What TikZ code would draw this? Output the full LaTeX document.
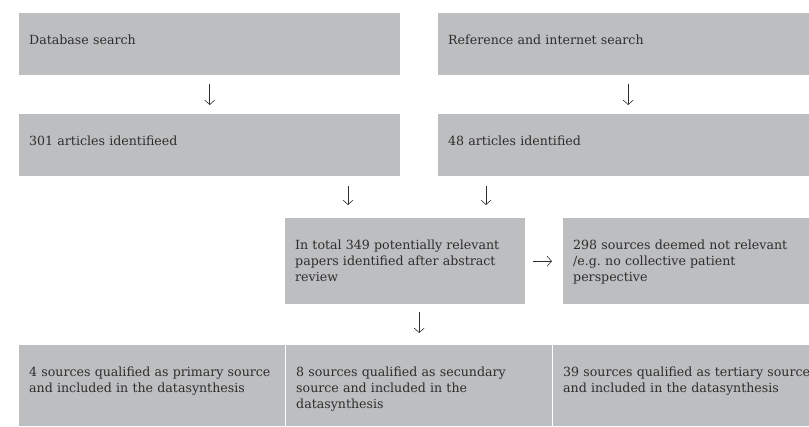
\documentclass[tikz,border=0pt]{standalone}
\usepackage{fontspec}
\setmainfont{DejaVu Serif}
\usetikzlibrary{arrows.meta}
\definecolor{boxgray}{RGB}{189,190,192}
\definecolor{inkgray}{RGB}{45,45,45}

\begin{document}
\begin{tikzpicture}[
        x=1pt, y=-1pt,
        stage/.style={rectangle, fill=boxgray, anchor=north west, align=left, inner xsep=10pt, inner ysep=0pt, text height=31pt, text=inkgray, font=\fontsize{12.6}{16}\selectfont},
        arrow/.style={-{Straight Barb[length=4.5pt,width=10pt]}, draw=inkgray, line width=0.6pt}
    ]
        \useasboundingbox (0,0) rectangle (809,426);

        % Searches
        \node[stage, text width=361pt, text depth=31pt] (dbsearch) at (19,13) {Database search};
        \node[stage, text width=360pt, text depth=31pt] (refsearch) at (438,13) {Reference and internet search};

        % Identified
        \node[stage, text width=361pt, text depth=31pt] (found301) at (19,114) {301 articles identifieed};
        \node[stage, text width=360pt, text depth=31pt] (found48) at (438,114) {48 articles identified};

        % Abstract review
        \node[stage, text width=220pt, text depth=55pt] (total) at (285,218) {In total 349 potentially relevant\\papers identified after abstract\\review};
        \node[stage, text width=235pt, text depth=55pt] (excluded) at (563,218) {298 sources deemed not relevant\\/e.g.\ no collective patient\\perspective};

        % Included sources
        \node[stage, text width=246pt, text depth=50pt] (primary) at (19,345) {4 sources qualified as primary source\\and included in the datasynthesis};
        \node[stage, text width=246pt, text depth=50pt] (secondary) at (286,345) {8 sources qualified as secundary\\source and included in the\\datasynthesis};
        \node[stage, text width=262pt, text depth=50pt] (tertiary) at (553,345) {39 sources qualified as tertiary source\\and included in the datasynthesis};

        % Arrows
        \coordinate (leftin) at (348,0);
        \coordinate (rightin) at (486,0);
        \draw[arrow, shorten <=9pt, shorten >=9pt] (dbsearch) -- (found301);
        \draw[arrow, shorten <=9pt, shorten >=9pt] (refsearch) -- (found48);
        \draw[arrow, shorten <=10pt, shorten >=13pt] (found301.south -| leftin) -- (total.north -| leftin);
        \draw[arrow, shorten <=10pt, shorten >=13pt] (found48.south -| rightin) -- (total.north -| rightin);
        \draw[arrow, shorten <=8pt, shorten >=11pt] (total) -- (excluded);
        \draw[arrow, shorten <=8pt, shorten >=12pt] (total.south -| secondary) -- (secondary);
    \end{tikzpicture}
\end{document}
